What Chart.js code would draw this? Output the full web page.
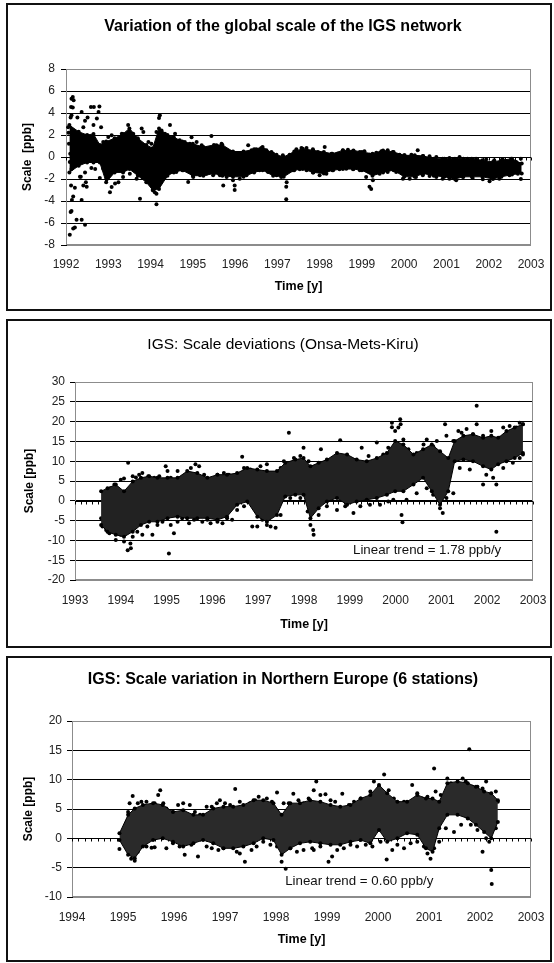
<!DOCTYPE html>
<html>
<head>
<meta charset="utf-8">
<script src="https://cdn.jsdelivr.net/npm/chart.js@4.4.1/dist/chart.umd.min.js"></script>
<style>
  html, body { margin: 0; padding: 0; background: #fff; }
  body { width: 554px; height: 963px; position: relative; overflow: hidden; }
  .panel { position: absolute; left: 6px; width: 546px; border: 2px solid #111; box-sizing: border-box; }
  .panel canvas { display: block; }
</style>
</head>
<body>
<div class="panel" style="top:3px;height:308px"><canvas id="c1" width="542" height="304"></canvas></div>
<div class="panel" style="top:319px;height:329px"><canvas id="c2" width="542" height="325"></canvas></div>
<div class="panel" style="top:656px;height:306px"><canvas id="c3" width="542" height="302"></canvas></div>
<script>
// ---- panel 1: global scale of the IGS network ----
const years1 = [1992, 1993, 1994, 1995, 1996, 1997, 1998, 1999, 2000, 2001, 2002, 2003];
const yTicks1 = [-8, -6, -4, -2, 0, 2, 4, 6, 8];
// dense core of the cloud: time, upper edge, lower edge
const coreX1 = [1992.08, 1992.3, 1992.5, 1992.65, 1992.8, 1992.95, 1993.15, 1993.35, 1993.5, 1993.7,
  1993.9, 1994.05, 1994.2, 1994.4, 1994.55, 1994.75, 1995.0, 1995.25, 1995.5, 1995.7,
  1995.95, 1996.2, 1996.45, 1996.65, 1996.9, 1997.15, 1997.4, 1997.6, 1997.85, 1998.1,
  1998.3, 1998.55, 1998.8, 1999.0, 1999.25, 1999.5, 1999.75, 2000.0, 2000.25, 2000.45,
  2000.7, 2000.95, 2001.2, 2001.4, 2001.6, 2001.85, 2002.1, 2002.3, 2002.55, 2002.78];
const coreHi1 = [2.9, 2.3, 2.0, 2.1, 1.1, 1.4, 1.7, 2.1, 2.6, 1.7,
  1.1, 0.8, 2.6, 2.0, 1.8, 1.4, 1.2, 0.9, 1.1, 1.1,
  0.5, 0.5, 0.7, 0.9, 0.3, 0.0, 0.5, 0.75, 0.6, 0.45,
  0.3, 0.6, 0.6, 0.45, 0.3, 0.6, 0.45, 0.15, 0.15, 0.1,
  -0.15, -0.15, -0.15, -0.15, -0.15, -0.3, -0.45, -0.3, -0.15, -0.6];
const coreLo1 = [-1.4, -0.8, -0.5, -0.5, -0.5, -2.3, -1.4, -1.4, -1.1, -1.7,
  -2.3, -3.0, -2.9, -1.7, -1.4, -1.2, -1.7, -1.7, -1.5, -1.7,
  -1.8, -1.8, -1.4, -1.2, -1.7, -1.8, -1.2, -1.1, -1.4, -1.5,
  -1.2, -1.1, -1.1, -1.2, -1.7, -1.4, -1.2, -1.8, -1.8, -1.5,
  -1.7, -1.8, -2.0, -1.8, -1.8, -1.8, -2.0, -1.8, -1.6, -1.5];
// single values outside the core: [time, scale]
const dots1 = [[1992.16, 5.45], [1992.18, 5.15], [1992.13, 5.3], [1992.16, 4.5], [1992.12, 4.55], [1992.13, 3.8],
  [1992.11, 3.6], [1992.37, 4.1], [1992.45, 3.3], [1992.41, 2.7], [1992.27, 3.6], [1992.51, 3.6],
  [1992.59, 4.55], [1992.66, 4.55], [1992.79, 4.6], [1992.77, 4.1], [1992.73, 3.5], [1992.83, 2.7],
  [1992.65, 2.9], [1992.09, -0.45], [1992.13, -1.1], [1992.12, -2.6], [1992.21, -2.8], [1992.17, -3.6],
  [1992.14, -3.9], [1992.11, -5.0], [1992.13, -4.9], [1992.17, -6.5], [1992.21, -6.4], [1992.09, -7.06],
  [1992.37, -5.7], [1992.25, -5.7], [1992.45, -6.15], [1992.37, -3.9], [1992.41, -2.6], [1992.49, -2.7],
  [1992.47, -2.3], [1992.35, -1.8], [1992.33, -1.8], [1992.45, -1.4], [1992.69, -1.1], [1992.8, -1.9],
  [1992.06, 2.2], [1992.07, 1.2], [1992.1, 0.3], [1992.2, 1.8], [1992.25, 0.8], [1992.3, -0.3],
  [1992.05, 2.7], [1992.55, 1.2], [1992.6, -1.0], [1992.9, 0.9],
  [1993.04, -3.2], [1993.47, 2.9], [1993.79, 2.6], [1993.75, -3.8], [1994.14, -4.3], [1994.22, 3.8],
  [1994.2, 3.55], [1994.46, 2.9], [1994.97, 1.8], [1995.72, -2.6], [1995.99, -2.6], [1995.99, -3.0],
  [1997.21, -2.7], [1997.22, -2.3], [1997.21, -3.85], [1999.18, -2.7], [1999.22, -2.9], [2002.76, -2.0]];
const dotsHi1 = [[1992.88, 1.36], [1993.0, 1.82], [1993.08, 1.97], [1993.2, 1.36], [1993.32, 2.12], [1993.39, 1.82],
  [1993.59, 2.12], [1993.69, 1.67], [1993.83, 2.27], [1993.95, 1.36], [1994.02, 1.21], [1994.14, 2.27],
  [1994.26, 2.42], [1994.34, 2.12], [1994.58, 2.12], [1994.69, 1.52], [1994.81, 1.36], [1994.93, 1.21],
  [1995.09, 1.36], [1995.21, 1.06], [1995.32, 0.76], [1995.44, 1.91], [1995.56, 1.06], [1995.68, 1.21],
  [1995.8, 0.61], [1995.91, 0.45], [1996.03, 0.3], [1996.15, 0.3], [1996.31, 1.06], [1996.39, 0.61],
  [1996.5, 0.7], [1996.62, 0.82], [1996.74, 0.61], [1996.86, 0.45], [1996.98, 0.21], [1997.13, 0.15],
  [1997.29, 0.21], [1997.45, 0.7], [1997.57, 0.82], [1997.69, 0.82], [1997.84, 0.7], [1997.96, 0.45],
  [1998.12, 0.91], [1998.28, 0.3], [1998.43, 0.3], [1998.55, 0.61], [1998.67, 0.67], [1998.79, 0.52],
  [1998.95, 0.45], [1999.06, 0.52], [1999.18, 0.21], [1999.34, 0.39], [1999.46, 0.52], [1999.61, 0.61],
  [1999.73, 0.45], [1999.89, 0.21], [2000.01, 0.15], [2000.17, 0.21], [2000.32, 0.61], [2000.44, 0.09],
  [2000.6, 0.06], [2000.76, 0], [2000.91, -0.15], [2001.07, -0.09], [2001.31, 0], [2001.5, -0.15],
  [2001.7, -0.15], [2001.94, -0.21], [2002.13, -0.3], [2002.33, -0.21], [2002.53, -0.15], [2002.65, -0.45],
  [2002.76, -0.15]];
const dotsLo1 = [[1992.88, -1.06], [1992.96, -1.97], [1993.08, -2.73], [1993.16, -2.42], [1993.24, -2.3], [1993.35, -1.82],
  [1993.51, -1.52], [1993.67, -1.97], [1993.83, -1.82], [1993.98, -2.27], [1994.06, -3.03], [1994.1, -3.2],
  [1994.14, -3.33], [1994.22, -2.42], [1994.34, -1.82], [1994.46, -1.36], [1994.61, -1.36], [1994.77, -1.21],
  [1994.89, -2.27], [1995.01, -1.82], [1995.17, -1.67], [1995.32, -1.52], [1995.48, -1.67], [1995.64, -1.67],
  [1995.8, -1.82], [1995.95, -2.12], [1996.11, -1.97], [1996.27, -1.67], [1996.43, -1.3], [1996.58, -1.21],
  [1996.78, -1.36], [1996.98, -1.67], [1997.09, -1.82], [1997.37, -1.21], [1997.53, -1.12], [1997.69, -1.21],
  [1997.84, -1.42], [1998.0, -1.67], [1998.16, -1.52], [1998.32, -1.21], [1998.47, -1.12], [1998.63, -1.06],
  [1998.79, -1.12], [1998.95, -1.21], [1999.1, -1.82], [1999.26, -2.12], [1999.42, -1.52], [1999.61, -1.36],
  [1999.81, -1.36], [1999.97, -1.97], [2000.13, -1.97], [2000.28, -1.82], [2000.44, -1.67], [2000.6, -1.73],
  [2000.76, -1.82], [2000.91, -1.97], [2001.07, -1.97], [2001.23, -2.12], [2001.39, -1.82], [2001.62, -1.91],
  [2001.86, -2.03], [2002.02, -2.21], [2002.25, -1.97], [2002.49, -1.67], [2002.69, -1.52]];

// ---- panel 2: Onsa-Mets-Kiru ----
const years2 = [1993, 1994, 1995, 1996, 1997, 1998, 1999, 2000, 2001, 2002, 2003];
const yTicks2 = [-20, -15, -10, -5, 0, 5, 10, 15, 20, 25, 30];
const coreX2 = [1993.57, 1993.71, 1993.89, 1994.07, 1994.26, 1994.44, 1994.62, 1994.8, 1995.02, 1995.24,
  1995.45, 1995.67, 1995.89, 1996.11, 1996.32, 1996.54, 1996.76, 1996.98, 1997.19, 1997.41,
  1997.59, 1997.81, 1997.99, 1998.14, 1998.32, 1998.5, 1998.72, 1998.94, 1999.15, 1999.37,
  1999.59, 1999.81, 1999.99, 2000.17, 2000.39, 2000.6, 2000.79, 2000.97, 2001.15, 2001.29,
  2001.48, 2001.69, 2001.91, 2002.09, 2002.24, 2002.42, 2002.6, 2002.78];
const coreHi2 = [2.4, 3.2, 4.1, 2.4, 4.9, 5.8, 6.2, 5.8, 5.8, 5.8,
  7.5, 7.0, 5.8, 6.6, 6.6, 7.0, 8.3, 7.9, 7.5, 7.5,
  9.6, 10.4, 10.8, 8.7, 9.6, 10.4, 12.1, 11.7, 10.4, 10.0,
  10.8, 12.1, 15.1, 14.2, 11.7, 13.0, 14.2, 12.5, 10.8, 15.1,
  16.4, 16.8, 15.9, 16.4, 15.9, 17.6, 18.5, 19.3];
const coreLo2 = [-6.1, -7.8, -8.6, -9.1, -7.8, -6.1, -5.3, -5.3, -4.4, -4.0,
  -4.4, -4.4, -4.4, -4.8, -4.0, -1.0, -0.2, -4.0, -5.3, -3.6,
  1.1, 1.5, 1.5, -4.4, -1.9, -0.2, 0.7, -1.0, -0.2, 0.25,
  0.7, 1.5, 2.4, 2.4, 4.1, 5.8, 2.4, -1.0, 2.4, 10.0,
  10.4, 10.0, 8.7, 7.9, 9.2, 10.0, 10.8, 12.1];
const dotsHi2 = [[1993.64, 1.9], [1993.77, 3.2], [1993.86, 4.1], [1994.0, 5.3], [1994.07, 5.6], [1994.16, 9.6],
  [1994.26, 6.2], [1994.33, 5.9], [1994.4, 6.6], [1994.47, 7.0], [1994.6, 6.2], [1994.73, 5.8],
  [1994.84, 6.2], [1994.98, 8.7], [1995.02, 7.5], [1995.09, 5.8], [1995.24, 7.5], [1995.34, 5.8],
  [1995.44, 6.2], [1995.53, 8.3], [1995.63, 9.2], [1995.71, 8.7], [1995.82, 6.6], [1995.96, 5.3],
  [1996.11, 6.6], [1996.25, 7.0], [1996.36, 6.6], [1996.47, 5.8], [1996.65, 11.1], [1996.69, 8.3],
  [1996.83, 7.9], [1996.94, 6.6], [1997.05, 8.7], [1997.19, 9.2], [1997.27, 5.8], [1997.49, 8.3],
  [1997.56, 10.0], [1997.67, 17.2], [1997.78, 10.8], [1997.92, 11.3], [1997.99, 13.4], [1998.1, 10.0],
  [1998.28, 8.3], [1998.37, 13.0], [1998.5, 10.0], [1998.65, 10.8], [1998.79, 15.3], [1998.86, 11.3],
  [1999.01, 10.4], [1999.15, 10.0], [1999.26, 13.4], [1999.41, 11.3], [1999.59, 14.7], [1999.73, 11.7],
  [1999.84, 13.4], [1999.92, 19.7], [1999.92, 18.6], [1999.99, 17.6], [2000.1, 20.6], [2000.11, 19.3],
  [2000.06, 18.5], [2000.17, 15.5], [2000.28, 13.0], [2000.46, 12.1], [2000.61, 14.2], [2000.68, 15.5],
  [2000.82, 13.8], [2000.9, 15.1], [2001.08, 19.3], [2001.11, 16.4], [2001.26, 15.1], [2001.37, 17.6],
  [2001.44, 17.2], [2001.55, 18.1], [2001.69, 16.8], [2001.77, 24.0], [2001.77, 19.3], [2001.91, 16.4],
  [2002.09, 17.6], [2002.27, 15.9], [2002.35, 18.5], [2002.49, 18.9], [2002.64, 18.5], [2002.71, 19.7],
  [2002.78, 19.3]];
const dotsLo2 = [[1993.57, -4.4], [1993.6, -6.5], [1993.68, -7.4], [1993.75, -8.2], [1993.82, -7.8], [1993.89, -9.9],
  [1994.0, -8.6], [1994.07, -10.3], [1994.15, -12.5], [1994.22, -12.0], [1994.21, -10.8], [1994.26, -9.1],
  [1994.36, -7.8], [1994.47, -8.6], [1994.58, -6.5], [1994.69, -8.6], [1994.8, -6.1], [1994.91, -5.3],
  [1995.05, -13.3], [1995.09, -6.1], [1995.16, -8.2], [1995.24, -5.3], [1995.34, -4.4], [1995.49, -5.7],
  [1995.6, -4.8], [1995.78, -5.3], [1995.89, -4.8], [1995.96, -5.7], [1996.11, -5.3], [1996.22, -5.7],
  [1996.32, -4.4], [1996.43, -4.8], [1996.54, -2.3], [1996.69, -1.4], [1996.87, -6.5], [1996.98, -6.5],
  [1997.09, -4.8], [1997.19, -6.1], [1997.27, -6.5], [1997.38, -6.8], [1997.49, -3.6], [1997.7, 0.7],
  [1997.92, 0.7], [1998.08, -2.7], [1998.14, -6.1], [1998.21, -8.6], [1998.2, -7.4], [1998.32, -3.6],
  [1998.5, -1.4], [1998.72, -2.3], [1998.9, -1.4], [1999.08, -3.1], [1999.23, -1.4], [1999.44, -1.0],
  [1999.66, -1.0], [1999.84, -0.2], [1999.95, 0.25], [2000.13, -3.6], [2000.15, -5.4], [2000.24, 0.25],
  [2000.46, 1.9], [2000.68, 3.2], [2000.82, 1.5], [2000.97, -1.9], [2001.03, -3.1], [2001.11, 0.7],
  [2001.26, 1.9], [2001.4, 8.3], [2001.62, 7.9], [2001.91, 4.1], [2001.98, 6.6], [2002.13, 5.8],
  [2002.2, 4.1], [2002.2, -7.8], [2002.35, 8.3], [2002.56, 9.6], [2002.71, 10.8], [2002.78, 11.7]];

// ---- panel 3: Northern Europe (6 stations) ----
const years3 = [1994, 1995, 1996, 1997, 1998, 1999, 2000, 2001, 2002, 2003];
const yTicks3 = [-10, -5, 0, 5, 10, 15, 20];
const coreX3 = [1994.93, 1995.1, 1995.23, 1995.39, 1995.59, 1995.78, 1995.98, 1996.18, 1996.38, 1996.57,
  1996.77, 1996.97, 1997.16, 1997.36, 1997.56, 1997.75, 1997.95, 1998.11, 1998.28, 1998.47,
  1998.67, 1998.87, 1999.07, 1999.26, 1999.46, 1999.66, 1999.85, 2000.02, 2000.18, 2000.38,
  2000.57, 2000.77, 2000.94, 2001.07, 2001.2, 2001.36, 2001.56, 2001.76, 2001.92, 2002.08,
  2002.22, 2002.35];
const coreHi3 = [0.85, 4.0, 5.1, 5.7, 6.0, 5.7, 4.5, 4.8, 4.0, 4.0,
  5.1, 5.4, 5.4, 5.7, 6.5, 6.5, 6.0, 4.0, 6.0, 6.0,
  6.5, 6.25, 5.7, 5.4, 5.7, 6.8, 7.4, 9.1, 7.7, 6.25,
  6.25, 7.4, 6.8, 6.8, 6.25, 9.4, 9.7, 9.4, 8.8, 8.0,
  7.7, 6.5];
const coreLo3 = [-0.3, -2.8, -3.4, -1.4, -0.3, 0, -0.6, -1.4, -0.85, -0.3,
  -0.85, -1.7, -1.7, -1.4, -0.85, 0, -0.3, -2.8, -1.7, -0.85,
  -0.6, -0.85, -1.1, -1.1, -0.6, -0.3, -0.85, 1.4, -0.6, 0,
  0.85, 0.6, -1.7, -2.3, 1.7, 4.0, 4.0, 3.4, 2.3, 1.1,
  0, 2.8];
const dotsHi3 = [[1995.03, 0.85], [1995.1, 4.5], [1995.13, 6.0], [1995.19, 7.2], [1995.29, 6.0], [1995.36, 6.25],
  [1995.46, 6.25], [1995.56, 5.7], [1995.62, 6.0], [1995.69, 7.4], [1995.73, 8.2], [1995.79, 6.0],
  [1995.85, 5.1], [1995.98, 4.5], [1996.08, 5.7], [1996.18, 6.0], [1996.31, 5.7], [1996.41, 4.5],
  [1996.51, 4.0], [1996.64, 5.4], [1996.74, 5.4], [1996.84, 6.0], [1996.9, 6.5], [1997.0, 6.0],
  [1997.1, 5.7], [1997.2, 8.4], [1997.29, 6.25], [1997.39, 5.1], [1997.49, 6.0], [1997.59, 6.5],
  [1997.66, 7.1], [1997.75, 6.25], [1997.82, 6.8], [1997.92, 6.25], [1998.02, 7.8], [1998.15, 6.0],
  [1998.25, 6.0], [1998.34, 7.6], [1998.44, 6.5], [1998.54, 6.0], [1998.64, 6.8], [1998.74, 8.2],
  [1998.79, 9.7], [1998.87, 7.4], [1998.97, 7.5], [1999.07, 6.5], [1999.16, 6.25], [1999.3, 7.6],
  [1999.43, 5.7], [1999.53, 6.25], [1999.66, 6.8], [1999.76, 6.5], [1999.85, 8.0], [1999.92, 9.7],
  [2000.02, 8.8], [2000.12, 10.9], [2000.21, 8.2], [2000.31, 6.8], [2000.41, 6.0], [2000.51, 6.25],
  [2000.67, 9.1], [2000.77, 7.7], [2000.87, 6.8], [2000.97, 7.1], [2001.1, 11.9], [2001.13, 8.0],
  [2001.23, 7.4], [2001.36, 10.2], [2001.43, 9.4], [2001.53, 9.1], [2001.66, 10.2], [2001.72, 9.7],
  [2001.79, 15.2], [2001.85, 8.8], [2001.95, 8.8], [2002.05, 8.5], [2002.12, 9.7], [2002.22, 7.4],
  [2002.31, 8.0], [2002.35, 6.25]];
const dotsLo3 = [[1994.93, -1.8], [1995.03, -0.6], [1995.1, -1.7], [1995.16, -3.5], [1995.23, -3.8], [1995.29, -2.3],
  [1995.46, -1.4], [1995.56, -1.6], [1995.62, -1.5], [1995.85, -1.7], [1995.98, -0.85], [1996.11, -1.4],
  [1996.21, -2.8], [1996.34, -1.1], [1996.47, -3.1], [1996.64, -1.4], [1996.74, -1.7], [1996.87, -2.0],
  [1996.97, -1.7], [1997.1, -1.1], [1997.23, -2.3], [1997.29, -2.6], [1997.39, -4.0], [1997.52, -2.0],
  [1997.62, -1.4], [1997.75, -0.6], [1997.89, -1.1], [1998.02, -1.4], [1998.11, -4.0], [1998.19, -5.2],
  [1998.28, -1.7], [1998.41, -2.3], [1998.54, -2.0], [1998.71, -1.7], [1998.74, -2.0], [1998.87, -1.4],
  [1999.03, -4.0], [1999.1, -3.1], [1999.2, -2.0], [1999.33, -1.7], [1999.46, -1.1], [1999.59, -1.4],
  [1999.76, -1.1], [1999.89, -1.4], [2000.05, -0.6], [2000.17, -3.6], [2000.28, -2.0], [2000.38, -1.1],
  [2000.51, -1.7], [2000.64, -0.85], [2000.77, -0.6], [2000.9, -1.4], [2000.97, -2.6], [2001.03, -3.5],
  [2001.1, -1.7], [2001.2, -0.6], [2001.33, 1.7], [2001.49, 1.1], [2001.63, 2.3], [2001.82, 2.3],
  [2001.95, 1.4], [2002.05, -2.3], [2002.12, 0], [2002.18, -0.6], [2002.22, -5.4], [2002.23, -7.8],
  [2002.31, 1.7]];

const FONT = "'Liberation Sans', Arial, Helvetica, sans-serif";

function toPoints(xs, ys) {
  return xs.map((x, i) => ({ x: x, y: ys[i] }));
}

function pairsToPoints(list) {
  return list.map(d => ({ x: d[0], y: d[1] }));
}

// Excel style: grey plot frame, black x axis crossing at zero with small ticks
const zeroAxis = {
  id: 'zeroAxis',
  beforeDatasetsDraw(chart) {
    const { ctx, chartArea: a, scales: { x, y } } = chart;
    ctx.save();
    ctx.lineWidth = 1;
    ctx.strokeStyle = '#8c8c8c';
    ctx.strokeRect(a.left + 0.5, a.top + 0.5, a.width - 1, a.height - 1);
    const y0 = Math.round(y.getPixelForValue(0)) + 0.5;
    ctx.strokeStyle = '#000';
    ctx.beginPath();
    ctx.moveTo(a.left, y0);
    ctx.lineTo(a.right, y0);
    for (let v = x.min; v <= x.max + 1e-6; v += 0.125) {
      const px = Math.round(x.getPixelForValue(v)) + 0.5;
      ctx.moveTo(px, y0);
      ctx.lineTo(px, y0 + 3);
    }
    ctx.stroke();
    ctx.restore();
  }
};

const trendLabel = {
  id: 'trendLabel',
  afterDatasetsDraw(chart, args, opts) {
    if (!opts || !opts.text) return;
    const { ctx, scales: { x, y } } = chart;
    ctx.save();
    ctx.font = '13.3px ' + FONT;
    ctx.fillStyle = '#111';
    ctx.textBaseline = 'middle';
    ctx.fillText(opts.text, x.getPixelForValue(opts.x), y.getPixelForValue(opts.y));
    ctx.restore();
  }
};

function makePanel(id, p) {
  const yMin = p.yTicks[0];
  const yMax = p.yTicks[p.yTicks.length - 1];
  const dot = { pointRadius: 2, pointBackgroundColor: '#000', pointBorderWidth: 0, pointHoverRadius: 2 };
  return new Chart(document.getElementById(id), {
    type: 'scatter',
    data: {
      datasets: [
        Object.assign({ data: toPoints(p.coreX, p.coreLo), showLine: true, borderColor: '#000', borderWidth: 1, fill: false }, dot),
        Object.assign({ data: toPoints(p.coreX, p.coreHi), showLine: true, borderColor: '#000', borderWidth: 1, fill: '-1', backgroundColor: p.coreColor }, dot),
        Object.assign({ data: pairsToPoints(p.dots) }, dot)
      ]
    },
    options: {
      responsive: false,
      animation: false,
      events: [],
      layout: { padding: { left: 8, right: 0, top: 0, bottom: 0 } },
      plugins: {
        legend: { display: false },
        tooltip: { enabled: false },
        title: {
          display: true, text: p.title, color: '#000',
          font: { family: FONT, size: p.titleSize, weight: p.titleWeight },
          padding: { top: p.titlePad[0], bottom: p.titlePad[1] }
        },
        trendLabel: p.trend
      },
      scales: {
        x: {
          type: 'linear', min: p.years[0], max: p.years[p.years.length - 1],
          afterBuildTicks: s => { s.ticks = p.years.map(v => ({ value: v })); },
          afterFit: s => { s.height = p.xHeight; s.paddingLeft = 0; s.paddingRight = p.padRight; },
          ticks: { callback: v => String(v), color: '#222', font: { family: FONT, size: 12 }, padding: p.xLabelPad, maxRotation: 0, autoSkip: false },
          grid: { display: false, drawTicks: false },
          border: { display: false },
          title: { display: true, text: 'Time [y]', color: '#000', font: { family: FONT, size: 12.5, weight: 'bold' }, padding: { top: 0, bottom: p.xTitlePad } }
        },
        y: {
          min: yMin, max: yMax,
          afterBuildTicks: s => { s.ticks = p.yTicks.map(v => ({ value: v })); },
          afterFit: s => { s.width = p.yWidth - 8; },
          ticks: { color: '#222', font: { family: FONT, size: 12 }, padding: p.yLabelPad },
          grid: {
            color: c => (c.tick && (c.tick.value === yMin || c.tick.value === yMax)) ? '#8c8c8c' : '#000',
            tickColor: '#000', tickLength: 5, lineWidth: 1
          },
          border: { color: '#000', width: 1 },
          title: { display: true, text: p.yTitle, color: '#000', font: { family: FONT, size: 12, weight: 'bold' }, padding: { top: p.yTitlePad - 8, bottom: 0 } }
        }
      }
    },
    plugins: [zeroAxis, trendLabel]
  });
}

makePanel('c1', {
  title: 'Variation of the global scale of the IGS network', titleSize: 16, titleWeight: 'bold', titlePad: [12.4, 32.4],
  yTitle: 'Scale  [ppb]', years: years1, yTicks: yTicks1,
  coreX: coreX1, coreHi: coreHi1, coreLo: coreLo1, dots: dots1.concat(dotsHi1, dotsLo1), coreColor: '#000',
  yWidth: 58, padRight: 19, xHeight: 64, xLabelPad: 12.8, xTitlePad: 14.5, yTitlePad: 12.8, yLabelPad: 6,
  trend: null
});

makePanel('c2', {
  title: 'IGS: Scale deviations (Onsa-Mets-Kiru)', titleSize: 15.5, titleWeight: 'normal', titlePad: [14.7, 27.7],
  yTitle: 'Scale [ppb]', years: years2, yTicks: yTicks2,
  coreX: coreX2, coreHi: coreHi2, coreLo: coreLo2, dots: dotsHi2.concat(dotsLo2), coreColor: '#222',
  yWidth: 67, padRight: 17, xHeight: 66, xLabelPad: 13.8, xTitlePad: 13.5, yTitlePad: 14.8, yLabelPad: 5,
  trend: { text: 'Linear trend = 1.78 ppb/y', x: 1999.07, y: -12.5 }
});

makePanel('c3', {
  title: 'IGS: Scale variation in Northern Europe (6 stations)', titleSize: 16, titleWeight: 'bold', titlePad: [12.4, 31.4],
  yTitle: 'Scale [ppb]', years: years3, yTicks: yTicks3,
  coreX: coreX3, coreHi: coreHi3, coreLo: coreLo3, dots: dotsHi3.concat(dotsLo3), coreColor: '#2a2a2a',
  yWidth: 64, padRight: 19, xHeight: 63, xLabelPad: 13.8, xTitlePad: 12.5, yTitlePad: 13.8, yLabelPad: 5,
  trend: { text: 'Linear trend = 0.60 ppb/y', x: 1998.18, y: -7.4 }
});
</script>
</body>
</html>
